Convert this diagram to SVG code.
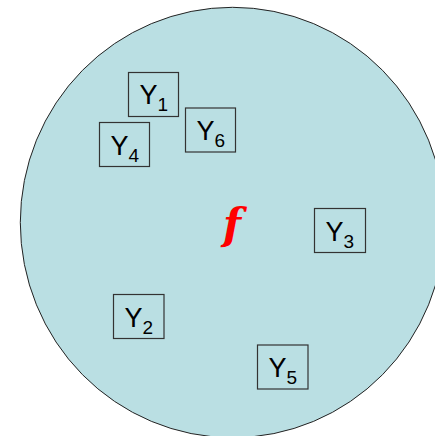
<svg xmlns="http://www.w3.org/2000/svg" width="435" height="436" viewBox="0 0 435 436">
<style>
.box{fill:none;stroke:#333;stroke-width:1.2}
.lbl{font-family:"Liberation Sans",Arial,sans-serif;font-size:27px;fill:#000}
.sub{font-size:19px}
.fn{font-family:"DejaVu Serif","Liberation Serif",serif;font-style:italic;font-weight:bold;font-size:42px;fill:#FF0000}
</style>
<rect width="435" height="436" fill="#fff"/>
<g id="set">
<ellipse cx="232.5" cy="222.5" rx="212.2" ry="215.2" fill="#BADFE3" stroke="#222" stroke-width="1"/>
<text class="fn" x="232" y="239" text-anchor="middle">f</text>
</g>
<g id="Y1"><rect class="box" x="128.5" y="72.5" width="50" height="44"/><text class="lbl" x="139.5" y="104">Y<tspan class="sub" dy="7">1</tspan></text></g>
<g id="Y4"><rect class="box" x="99.5" y="122.5" width="50" height="44"/><text class="lbl" x="110.5" y="155">Y<tspan class="sub" dy="7">4</tspan></text></g>
<g id="Y6"><rect class="box" x="185.5" y="108" width="50" height="44"/><text class="lbl" x="196.5" y="140">Y<tspan class="sub" dy="7">6</tspan></text></g>
<g id="Y3"><rect class="box" x="314.5" y="208.5" width="51" height="44"/><text class="lbl" x="325.5" y="240.7">Y<tspan class="sub" dy="7">3</tspan></text></g>
<g id="Y2"><rect class="box" x="113.5" y="294.5" width="50.5" height="44"/><text class="lbl" x="124.5" y="326.7">Y<tspan class="sub" dy="7">2</tspan></text></g>
<g id="Y5"><rect class="box" x="257.5" y="345" width="50.5" height="44"/><text class="lbl" x="268.5" y="376.7">Y<tspan class="sub" dy="7">5</tspan></text></g>
</svg>
